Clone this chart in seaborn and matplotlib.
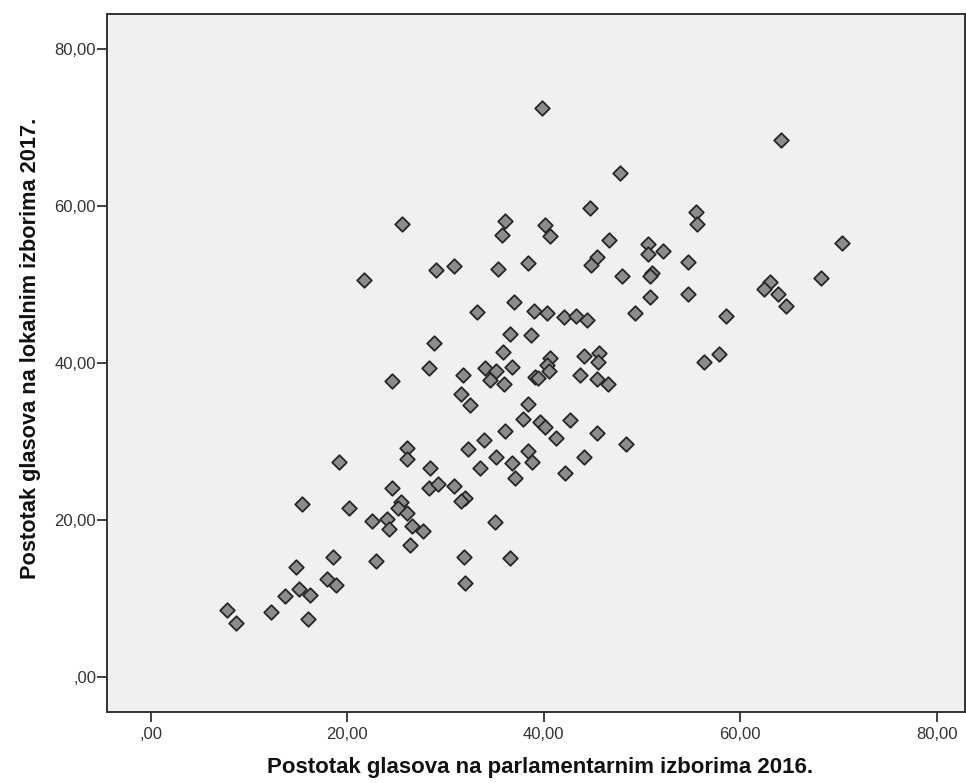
import matplotlib
matplotlib.use('Agg')
import matplotlib.pyplot as plt
import seaborn as sns
import pandas as pd
from matplotlib.ticker import FuncFormatter

# Vote share (%) per municipality
parl_2016 = [
    39.85, 47.8, 44.7, 25.6, 36.1, 35.7, 40.15, 40.6, 46.6, 50.6,
    50.6, 52.1, 54.7, 54.7, 29.0, 30.9, 35.3, 38.4, 45.4, 44.8,
    48.0, 51.0, 50.8, 50.8, 33.2, 37.0, 39.0, 40.3, 42.1, 43.3,
    44.4, 49.3, 64.2, 55.5, 55.6, 70.4, 68.2, 63.0, 62.4, 63.9,
    64.7, 58.6, 57.8, 56.3, 21.7, 24.5, 19.2, 24.5, 15.4, 20.2,
    22.5, 24.0, 24.2, 25.5, 25.2, 18.5, 22.9, 14.8, 17.9, 18.8,
    15.1, 16.2, 13.7, 12.2, 16.0, 7.7, 8.7, 36.6, 38.7, 28.8,
    35.9, 28.3, 31.8, 34.0, 35.1, 34.5, 36.8, 36.0, 39.1, 39.4,
    40.6, 40.3, 40.5, 44.05, 45.6, 45.5, 43.7, 45.4, 46.5, 31.6,
    32.45, 38.4, 37.9, 39.6, 40.1, 42.65, 36.1, 33.9, 41.2, 45.4,
    48.4, 32.3, 35.1, 38.4, 38.8, 36.8, 44.15, 33.5, 37.1, 42.2,
    26.1, 26.1, 28.4, 28.3, 29.2, 30.9, 32.0, 31.6, 26.1, 26.55,
    27.7, 26.35, 35.0, 31.9, 36.6, 32.0,
]
local_2017 = [
    72.5, 64.2, 59.7, 57.7, 58.1, 56.3, 57.6, 56.1, 55.6, 55.1,
    53.8, 54.2, 52.8, 48.7, 51.85, 52.3, 51.9, 52.7, 53.5, 52.5,
    51.0, 51.5, 51.0, 48.4, 46.5, 47.7, 46.6, 46.3, 45.8, 45.9,
    45.5, 46.4, 68.4, 59.2, 57.7, 55.2, 50.8, 50.3, 49.4, 48.8,
    47.2, 45.9, 41.1, 40.1, 50.5, 37.7, 27.3, 24.1, 22.0, 21.45,
    19.8, 20.05, 18.8, 22.2, 21.5, 15.2, 14.7, 14.0, 12.45, 11.7,
    11.2, 10.4, 10.3, 8.3, 7.35, 8.45, 6.9, 43.7, 43.5, 42.5,
    41.4, 39.3, 38.4, 39.3, 38.9, 37.75, 39.5, 37.3, 38.2, 38.0,
    40.6, 39.7, 38.9, 40.9, 41.3, 40.05, 38.4, 37.9, 37.3, 36.05,
    34.65, 34.7, 32.8, 32.4, 31.8, 32.7, 31.3, 30.1, 30.45, 31.1,
    29.6, 29.0, 28.0, 28.7, 27.4, 27.2, 28.0, 26.55, 25.3, 25.9,
    29.2, 27.8, 26.55, 24.0, 24.5, 24.3, 22.8, 22.4, 20.8, 19.2,
    18.5, 16.8, 19.75, 15.2, 15.1, 11.9,
]
TICKS = [0, 20, 40, 60, 80]

df = pd.DataFrame({'parl': parl_2016, 'local': local_2017})

sns.set_style('white')
plt.rcParams['font.family'] = ['Liberation Sans', 'DejaVu Sans']

fig = plt.figure(figsize=(9.66, 7.83), dpi=100)
ax = fig.add_axes([0.111, 0.0907, 0.888, 0.892])
ax.set_facecolor('#f0f0f0')

sns.scatterplot(data=df, x='parl', y='local', marker='D', s=55,
                color='#8c8c8c', edgecolor='#262626', linewidth=1.3, ax=ax)

ax.set_xlim(-4.45, 82.9)
ax.set_ylim(-4.5, 84.5)
ax.set_xticks(TICKS)
ax.set_yticks(TICKS)


def spss_fmt(v, pos):
    s = f'{v:.2f}'.replace('.', ',')
    return s[1:] if s.startswith('0') else s


ax.xaxis.set_major_formatter(FuncFormatter(spss_fmt))
ax.yaxis.set_major_formatter(FuncFormatter(spss_fmt))
ax.tick_params(axis='both', which='major', bottom=True, left=True,
               direction='out', length=7, width=1.3, color='#333333',
               labelsize=12, labelcolor='#333333')
ax.tick_params(axis='x', pad=4)
ax.tick_params(axis='y', pad=1)
for sp in ax.spines.values():
    sp.set_color('#333333')
    sp.set_linewidth(1.4)

ax.set_xlabel('Postotak glasova na parlamentarnim izborima 2016.',
              fontsize=16, fontweight='bold', color='#111111')
ax.set_ylabel('Postotak glasova na lokalnim izborima 2017.',
              fontsize=15.7, fontweight='bold', color='#111111')
ax.xaxis.set_label_coords(0.505, -0.064)
ax.yaxis.set_label_coords(-0.077, 0.52)

fig.savefig('out.png', dpi=100, facecolor='white')
